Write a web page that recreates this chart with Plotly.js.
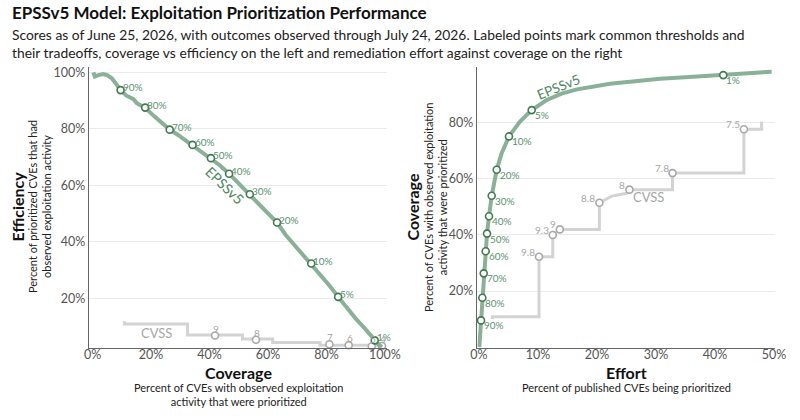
<!DOCTYPE html>
<html><head><meta charset="utf-8">
<script src="https://cdn.plot.ly/plotly-3.0.1.min.js"></script>
<style>html,body{margin:0;padding:0;background:#fff}#chart{width:800px;height:420px}</style>
</head><body><div id="chart"></div><script>
// ---------- Left panel: coverage vs efficiency ----------
const leftEpssCoverage   = [0.003,0.008,0.02,0.037,0.05,0.066,0.08,0.096,0.115,0.14,0.152,0.18,0.21,0.24,0.264,0.29,0.31,0.342,0.37,0.405,0.435,0.467,0.5,0.538,0.57,0.60,0.631,0.66,0.70,0.748,0.78,0.81,0.84,0.87,0.90,0.93,0.965,0.98,0.99];
const leftEpssEfficiency = [1.00,0.985,0.99,0.994,0.99,0.979,0.96,0.937,0.918,0.905,0.89,0.875,0.845,0.818,0.797,0.78,0.765,0.743,0.72,0.696,0.671,0.641,0.607,0.568,0.535,0.503,0.468,0.425,0.378,0.323,0.283,0.245,0.205,0.165,0.128,0.094,0.051,0.035,0.028];
const epssThresholdLabels = ['90%','80%','70%','60%','50%','40%','30%','20%','10%','5%','1%'];
const leftEpssPtCoverage   = [0.096,0.180,0.264,0.342,0.405,0.467,0.538,0.631,0.748,0.840,0.965];
const leftEpssPtEfficiency = [0.937,0.875,0.797,0.743,0.696,0.641,0.568,0.468,0.323,0.205,0.051];

const leftCvssCoverage   = [0.109,0.109,0.325,0.325,0.513,0.513,0.616,0.616,0.778,0.778,0.99];
const leftCvssEfficiency = [0.119,0.109,0.109,0.070,0.070,0.056,0.056,0.043,0.043,0.034,0.034];
const leftCvssPtLabels     = ['9','8','7','6','5','4'];
const leftCvssPtCoverage   = [0.419,0.559,0.810,0.876,0.955,0.99];
const leftCvssPtEfficiency = [0.068,0.053,0.037,0.034,0.030,0.031];

// ---------- Right panel: effort vs coverage ----------
const rightEpssEffort   = [0.0005,0.0034,0.0056,0.008,0.0113,0.0136,0.017,0.0215,0.030,0.0384,0.0508,0.0695,0.0893,0.1147,0.140,0.166,0.222,0.307,0.363,0.414,0.496];
const rightEpssCoverage = [0.0,0.095,0.176,0.263,0.342,0.405,0.467,0.540,0.633,0.692,0.752,0.805,0.846,0.882,0.905,0.920,0.940,0.958,0.965,0.971,0.983];
const rightEpssPtEffort   = [0.0034,0.0056,0.008,0.0113,0.0136,0.017,0.0215,0.030,0.0508,0.0893,0.414];
const rightEpssPtCoverage = [0.095,0.176,0.263,0.342,0.405,0.467,0.540,0.633,0.752,0.846,0.971];

const rightCvssEffort   = [0.0226,0.0226,0.1017,0.1017,0.125,0.125,0.137,0.204,0.204,0.225,0.250,0.255,0.328,0.328,0.449,0.449,0.479,0.479];
const rightCvssCoverage = [0.100,0.108,0.108,0.3225,0.3225,0.400,0.420,0.420,0.515,0.539,0.549,0.562,0.562,0.621,0.621,0.7775,0.7775,0.805];
const rightCvssPtLabels   = ['9.8','9.3','9','8.8','8','7.8','7.5'];
const rightCvssPtEffort   = [0.1017,0.125,0.137,0.204,0.255,0.328,0.449];
const rightCvssPtCoverage = [0.3225,0.400,0.420,0.515,0.562,0.621,0.7775];

const leftXTicks  = [0,0.2,0.4,0.6,0.8,1.0];
const leftYTicks  = [0.2,0.4,0.6,0.8,1.0];
const rightXTicks = [0,0.1,0.2,0.3,0.4,0.5];
const rightYTicks = [0.2,0.4,0.6,0.8];

// ---------- styling ----------
const FONT = 'Lato, "Open Sans", sans-serif';
const GREEN_LINE = '#8ab198', GREEN_MARK = '#3f7a53', GREEN_TEXT = '#5a9170';
const GRAY_LINE = '#d3d3d3', GRAY_MARK = '#a8a8a8', GRAY_TEXT = '#a6a6a6';
const W = 800, H = 420;
const pxX = v => v / W, pxY = v => 1 - v / H;

function line(x, y, color, width, xa, ya) {
  return {x, y, xaxis: xa, yaxis: ya, type: 'scatter', mode: 'lines',
    line: {color, width, shape: 'linear'}, hoverinfo: 'skip', showlegend: false, cliponaxis: false};
}
function pts(x, y, color, xa, ya) {
  return {x, y, xaxis: xa, yaxis: ya, type: 'scatter', mode: 'markers',
    marker: {size: 7, color: '#ffffff', line: {color, width: 1.6}}, hoverinfo: 'skip', showlegend: false, cliponaxis: false};
}
const data = [
  line(leftCvssCoverage, leftCvssEfficiency, GRAY_LINE, 3, 'x', 'y'),
  pts(leftCvssPtCoverage, leftCvssPtEfficiency, GRAY_MARK, 'x', 'y'),
  line(leftEpssCoverage, leftEpssEfficiency, GREEN_LINE, 4, 'x', 'y'),
  pts(leftEpssPtCoverage, leftEpssPtEfficiency, GREEN_MARK, 'x', 'y'),
  line(rightCvssEffort, rightCvssCoverage, GRAY_LINE, 3, 'x2', 'y2'),
  pts(rightCvssPtEffort, rightCvssPtCoverage, GRAY_MARK, 'x2', 'y2'),
  line(rightEpssEffort, rightEpssCoverage, GREEN_LINE, 4, 'x2', 'y2'),
  pts(rightEpssPtEffort, rightEpssPtCoverage, GREEN_MARK, 'x2', 'y2'),
];

const ann = [];
function txt(o) { ann.push(Object.assign({showarrow: false, font: {family: FONT, size: 11, color: '#222'}}, o)); }
// point labels
epssThresholdLabels.forEach((t, i) => {
  txt({xref: 'x', yref: 'y', x: leftEpssPtCoverage[i], y: leftEpssPtEfficiency[i], text: t,
       xanchor: 'left', yanchor: 'middle', xshift: 0, yshift: 3, font: {family: FONT, size: 10, color: GREEN_TEXT}});
  txt({xref: 'x2', yref: 'y2', x: rightEpssPtEffort[i], y: rightEpssPtCoverage[i], text: t,
       xanchor: 'left', yanchor: 'middle', xshift: 1, yshift: -5, font: {family: FONT, size: 10, color: GREEN_TEXT}});
});
leftCvssPtLabels.forEach((t, i) => {
  txt({xref: 'x', yref: 'y', x: leftCvssPtCoverage[i], y: leftCvssPtEfficiency[i], text: t,
       xanchor: 'center', yanchor: 'middle', xshift: 1, yshift: 7, font: {family: FONT, size: 10, color: GRAY_TEXT}});
});
rightCvssPtLabels.forEach((t, i) => {
  txt({xref: 'x2', yref: 'y2', x: rightCvssPtEffort[i], y: rightCvssPtCoverage[i], text: t,
       xanchor: 'right', yanchor: 'middle', xshift: -2, yshift: 5, font: {family: FONT, size: 10, color: GRAY_TEXT}});
});
// series labels
txt({xref: 'x', yref: 'y', x: 0.453, y: 0.5975, text: 'EPSSv5', textangle: 44, font: {family: FONT, size: 14, color: '#4d8763'}});
txt({xref: 'x2', yref: 'y2', x: 0.134, y: 0.929, text: 'EPSSv5', textangle: -22, font: {family: FONT, size: 13.5, color: '#4d8763'}});
txt({xref: 'x', yref: 'y', x: 0.219, y: 0.076, text: 'CVSS', font: {family: FONT, size: 13, color: GRAY_TEXT}});
txt({xref: 'x2', yref: 'y2', x: 0.287, y: 0.537, text: 'CVSS', font: {family: FONT, size: 13, color: GRAY_TEXT}});
// titles
txt({xref: 'paper', yref: 'paper', x: pxX(10), y: pxY(12), xanchor: 'left', yanchor: 'middle',
     text: '<b>EPSSv5 Model: Exploitation Prioritization Performance</b>', font: {family: FONT, size: 17, color: '#111'}});
txt({xref: 'paper', yref: 'paper', x: pxX(10), y: pxY(24), xanchor: 'left', yanchor: 'top', align: 'left',
     text: 'Scores as of June 25, 2026, with outcomes observed through July 24, 2026. Labeled points mark common thresholds and<br>their tradeoffs, coverage vs efficiency on the left and remediation effort against coverage on the right',
     font: {family: FONT, size: 13.85, color: '#222'}});
// axis titles
txt({xref: 'paper', yref: 'paper', x: pxX(16.5), y: pxY(207), xanchor: 'center', yanchor: 'middle', textangle: -90,
     text: '<b>Efficiency</b>', font: {family: FONT, size: 16, color: '#111'}});
txt({xref: 'paper', yref: 'paper', x: pxX(39), y: pxY(207), xanchor: 'center', yanchor: 'middle', textangle: -90,
     text: 'Percent of prioritized CVEs that had<br>observed exploitation activity', font: {family: FONT, size: 11, color: '#222'}});
txt({xref: 'paper', yref: 'paper', x: pxX(411.5), y: pxY(207), xanchor: 'center', yanchor: 'middle', textangle: -90,
     text: '<b>Coverage</b>', font: {family: FONT, size: 16, color: '#111'}});
txt({xref: 'paper', yref: 'paper', x: pxX(435), y: pxY(207), xanchor: 'center', yanchor: 'middle', textangle: -90,
     text: 'Percent of CVEs with observed exploitation<br>activity that were prioritized', font: {family: FONT, size: 11, color: '#222'}});
txt({xref: 'paper', yref: 'paper', x: pxX(238.3), y: pxY(372), xanchor: 'center', yanchor: 'middle',
     text: '<b>Coverage</b>', font: {family: FONT, size: 16, color: '#111'}});
txt({xref: 'paper', yref: 'paper', x: pxX(238.3), y: pxY(394.5), xanchor: 'center', yanchor: 'middle',
     text: 'Percent of CVEs with observed exploitation<br>activity that were prioritized', font: {family: FONT, size: 11, color: '#222'}});
txt({xref: 'paper', yref: 'paper', x: pxX(626), y: pxY(372), xanchor: 'center', yanchor: 'middle',
     text: '<b>Effort</b>', font: {family: FONT, size: 16, color: '#111'}});
txt({xref: 'paper', yref: 'paper', x: pxX(626), y: pxY(387.5), xanchor: 'center', yanchor: 'middle',
     text: 'Percent of published CVEs being prioritized', font: {family: FONT, size: 11, color: '#222'}});

function axis(domain, range, tickvals, grid) {
  return {domain, range, tickvals, ticktext: tickvals.map(v => Math.round(v * 100) + '%'),
    showgrid: grid, gridcolor: '#ebebeb', gridwidth: 1, zeroline: false,
    showline: true, linecolor: '#666', linewidth: 1.5, ticks: '',
    tickfont: {family: FONT, size: 12.5, color: '#555'}, fixedrange: true};
}
const layout = {
  width: W, height: H, margin: {l: 0, r: 0, t: 0, b: 0},
  paper_bgcolor: '#fff', plot_bgcolor: '#fff', showlegend: false,
  xaxis: Object.assign(axis([pxX(89.3), pxX(387.3)], [-0.011, 1.008], leftXTicks, false), {anchor: 'y', ticklabelstandoff: -5}),
  yaxis: Object.assign(axis([pxY(347.7), pxY(66.7)], [0.025, 1.0198], leftYTicks, true), {anchor: 'x'}),
  xaxis2: Object.assign(axis([pxX(477.3), pxX(775)], [-0.0029, 0.5017], rightXTicks, false), {anchor: 'y2', ticklabelstandoff: -5}),
  yaxis2: Object.assign(axis([pxY(347.7), pxY(66.7)], [-0.0025, 1.001], rightYTicks, true), {anchor: 'x2'}),
  annotations: ann
};
Plotly.newPlot('chart', data, layout, {staticPlot: true, displayModeBar: false});
</script></body></html>
